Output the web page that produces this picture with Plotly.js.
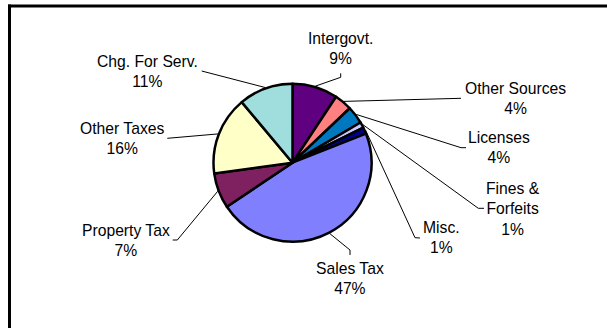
<!DOCTYPE html>
<html>
<head>
<meta charset="utf-8">
<script src="https://cdn.plot.ly/plotly-3.0.1.min.js"></script>
<style>html,body{margin:0;padding:0;background:#fff;overflow:hidden;width:607px;height:328px;}#chart{width:620px;height:328px;}</style>
</head>
<body>
<div id="chart"></div>
<script>
// ---- data ----
const categories = ["Intergovt.", "Other Sources", "Licenses", "Fines &<br>Forfeits", "Misc.", "Sales Tax", "Property Tax", "Other Taxes", "Chg. For Serv."];
const values = [9.3, 3.6, 3.6, 1.2, 1.3, 46.6, 7.2, 16.1, 11.1];
const sliceColors = ["#5F0080", "#FF8080", "#0078C0", "#C8C8FF", "#000090", "#8080FF", "#7F2060", "#FFFFC8", "#A0DEDE"];

// ---- layout helpers ----
const W = 620, H = 328;   // canvas a little wider than the window; the frame runs off the right edge
const CX = 292.5, CY = 162.7, R = 79;
const px = x => x / W;
const py = y => 1 - y / H;

// label placement (pixel centres) and leader-line bends, per slice
const labelPos = [
  {x: 340.7, y: 48.7, bend: [[340.7, 77.3], [340.7, 73.3]]},
  {x: 515, y: 98.5, bend: [[461, 98.3]]},
  {x: 499, y: 147.2, bend: [[461, 147.7], [466, 147.7]]},
  {x: 513, y: 209, bend: [[478.3, 208.3], [484, 208.3]]},
  {x: 441.7, y: 237.2, bend: [[415, 237.7], [420, 238]]},
  {x: 350, y: 278, bend: [[350, 250], [350, 255]]},
  {x: 126, y: 240.5, bend: [[177.3, 240], [172.7, 240]]},
  {x: 122.3, y: 138.3, bend: [[167.3, 138.3]]},
  {x: 147.8, y: 72, bend: [[201.7, 71]]}
];

const total = values.reduce((a, b) => a + b, 0);
let cum = 0;
const annotations = [];
const shapes = [];
values.forEach((v, i) => {
  const mid = (cum + v / 2) / total * 2 * Math.PI;
  cum += v;
  const sx = CX + (R + 1) * Math.sin(mid);
  const sy = CY - (R + 1) * Math.cos(mid);
  const pts = [[sx, sy]].concat(labelPos[i].bend);
  let d = "M" + pts.map(p => px(p[0]) + "," + py(p[1])).join(" L");
  shapes.push({type: "path", xref: "paper", yref: "paper", path: d,
    line: {color: "#000", width: 1}});
  const pct = Math.round(v / total * 100);
  annotations.push({
    xref: "paper", yref: "paper", x: px(labelPos[i].x), y: py(labelPos[i].y),
    xanchor: "center", yanchor: "middle", showarrow: false,
    text: categories[i] + "<br>" + pct + "%",
    font: {family: "Arial, Liberation Sans, sans-serif", size: 15.7, color: "#000"},
    align: "center"
  });
});

// outer frame: left and top edges (right/bottom lie outside the view)
shapes.push({type: "line", xref: "paper", yref: "paper",
  x0: px(9.5), x1: px(9.5), y0: py(340), y1: py(4.5),
  line: {color: "#000", width: 3}});
shapes.push({type: "line", xref: "paper", yref: "paper",
  x0: px(8), x1: px(640), y0: py(6), y1: py(6),
  line: {color: "#000", width: 3}});

const trace = {
  type: "pie",
  labels: categories,
  values: values,
  sort: false,
  direction: "clockwise",
  rotation: 0,
  textinfo: "none",
  hoverinfo: "label+percent",
  marker: {colors: sliceColors, line: {color: "#000", width: 2.5}},
  domain: {x: [px(CX - R), px(CX + R)], y: [py(CY + R), py(CY - R)]}
};

Plotly.newPlot("chart", [trace], {
  width: W, height: H,
  margin: {l: 0, r: 0, t: 0, b: 0},
  paper_bgcolor: "#fff",
  showlegend: false,
  annotations: annotations,
  shapes: shapes
}, {staticPlot: true});
</script>
</body>
</html>
